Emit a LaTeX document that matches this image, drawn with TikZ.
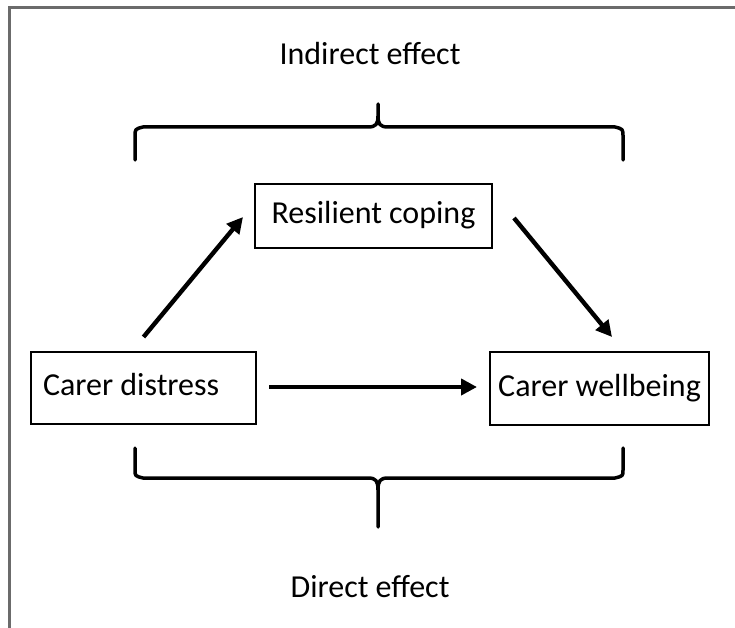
\documentclass[tikz,border=0pt]{standalone}
\usepackage{fontspec}
\setmainfont{Carlito}
\usetikzlibrary{arrows.meta,calc}
\begin{document}
\begin{tikzpicture}[x=1pt,y=-1pt,
  every node/.style={font=\fontsize{32}{36}\selectfont},
  varbox/.style={draw=black, line width=2pt, rectangle, inner sep=0pt,
                 text height=22pt, text depth=7pt},
  label/.style={anchor=base, inner sep=0pt},
  path/.style={line width=4.4pt, -{Triangle[length=16pt,width=16pt]}},
  brace/.style={line width=3.5pt, line join=round, line cap=round},
  frame/.style={draw=black!58, line width=2.5pt}]
  \useasboundingbox (0,0) rectangle (735,628);

  % outer frame
  \draw[frame] (9.5,628) -- (9.5,7.5) -- (735,7.5);

  % variables
  \node[varbox, minimum width=225pt, minimum height=72pt, text width=201pt,
        align=flush left, inner xsep=12pt] (distress) at (143.5,388)
        {\mbox{Carer distress}};
  \node[varbox, minimum width=219pt, minimum height=73pt] (wellbeing)
        at (599.5,388.5) {Carer wellbeing};
  \node[varbox, minimum width=237pt, minimum height=64pt] (coping)
        at (373.5,216) {Resilient coping};

  % effect labels
  \node[label] (indirect) at (370,65) {Indirect effect};
  \node[label] (direct) at (370,597) {Direct effect};

  % paths between variables
  \draw[path] ($(distress.north)+(0,-14)$) -- ($(coping.west)+(-11,1)$);
  \draw[path] ($(coping.east)+(21,2)$) -- ($(wellbeing.north)+(12.5,-14)$);
  \draw[path] ($(distress.east)+(12,-1)$) -- ($(wellbeing.west)+(-12,-1.5)$);

  % brace grouping the indirect path
  \draw[brace] (135,160) -- (135,137) .. controls (135,129) .. (143,127)
    -- (368,127) .. controls (376,127) and (378,124) .. (378,116) -- (378,104)
    (378,116) .. controls (378,124) and (380,127) .. (388,127)
    -- (615,127) .. controls (623,129) .. (623,137) -- (623,160);

  % brace grouping the direct path
  \draw[brace] (135,448) -- (135,470) .. controls (135,476) .. (143,478)
    -- (368,478) .. controls (376,478) and (378,481) .. (378,490) -- (378,527)
    (378,490) .. controls (378,481) and (380,478) .. (388,478)
    -- (615,478) .. controls (623,476) .. (623,470) -- (623,448);
\end{tikzpicture}
\end{document}
